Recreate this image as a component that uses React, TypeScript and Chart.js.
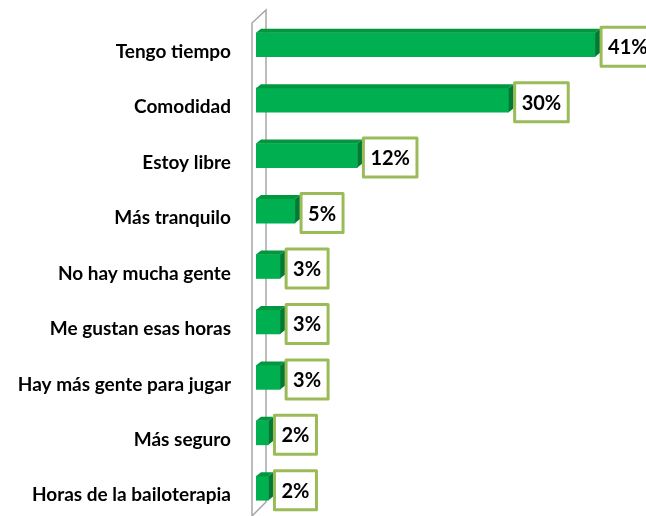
import { useEffect, useRef } from "react";
import { Chart, registerables } from "chart.js";

Chart.register(...registerables);

const categories = [
  "Tengo tiempo",
  "Comodidad",
  "Estoy libre",
  "Más tranquilo",
  "No hay mucha gente",
  "Me gustan esas horas",
  "Hay más gente para jugar",
  "Más seguro",
  "Horas de la bailoterapia",
];
const values = [40.8, 30.4, 12.2, 4.7, 2.9, 2.9, 2.9, 1.5, 1.5];
const valueLabels = ["41%", "30%", "12%", "5%", "3%", "3%", "3%", "2%", "2%"];

const FONT = "'Lato', 'Open Sans', sans-serif";
const FRONT = "#00B050";
const TOP = "#00973F";
const SIDE = "#007A33";
const BOX = "#9BBB59";
const WALL = "#A6A6A6";
const DX = 5;
const DY = 4;

const wallPlugin = {
  id: "wall3d",
  beforeDatasetsDraw(chart: any) {
    const { ctx, chartArea } = chart;
    const xf = chartArea.left - 4;
    const xb = chartArea.left + 10;
    ctx.save();
    ctx.strokeStyle = WALL;
    ctx.lineWidth = 1.5;
    ctx.beginPath();
    ctx.moveTo(xf, chartArea.bottom + 4);
    ctx.lineTo(xf, chartArea.top + 6);
    ctx.lineTo(xb, chartArea.top - 7);
    ctx.lineTo(xb, chartArea.bottom - 14);
    ctx.lineTo(xf, chartArea.bottom);
    ctx.stroke();
    ctx.restore();

    const yScale = chart.scales.y;
    ctx.save();
    ctx.font = `bold 19px ${FONT}`;
    ctx.fillStyle = "#000000";
    ctx.textAlign = "right";
    ctx.textBaseline = "middle";
    categories.forEach((c, i) => {
      const yy = yScale.getPixelForValue(i);
      ctx.fillText(c, chartArea.left - 25, yy + 7);
    });
    ctx.restore();
  },
};

const facesPlugin = {
  id: "faces3d",
  afterDatasetsDraw(chart: any) {
    const { ctx } = chart;
    const meta = chart.getDatasetMeta(0);
    ctx.save();
    meta.data.forEach((bar: any, i: number) => {
      const { x, y, base, height } = bar.getProps(["x", "y", "base", "height"], true);
      const top = y - height / 2;
      const bot = y + height / 2;
      const x0 = base;
      const x1 = x;
      ctx.fillStyle = TOP;
      ctx.beginPath();
      ctx.moveTo(x0, top);
      ctx.lineTo(x0 + DX, top - DY);
      ctx.lineTo(x1 + DX, top - DY);
      ctx.lineTo(x1, top);
      ctx.closePath();
      ctx.fill();
      ctx.fillStyle = SIDE;
      ctx.beginPath();
      ctx.moveTo(x1, top);
      ctx.lineTo(x1 + DX, top - DY);
      ctx.lineTo(x1 + DX, bot - DY);
      ctx.lineTo(x1, bot);
      ctx.closePath();
      ctx.fill();

      const label = valueLabels[i];
      ctx.font = `bold 20px ${FONT}`;
      const tw = ctx.measureText(label).width;
      const bw = tw + 14;
      const bh = 39;
      const bx = x1 + DX + 1;
      const by = y - bh / 2 + 2;
      ctx.fillStyle = "#FFFFFF";
      ctx.fillRect(bx, by, bw, bh);
      ctx.strokeStyle = BOX;
      ctx.lineWidth = 3;
      ctx.lineJoin = "round";
      ctx.strokeRect(bx, by, bw, bh);
      ctx.fillStyle = "#000000";
      ctx.textAlign = "center";
      ctx.textBaseline = "middle";
      ctx.fillText(label, bx + bw / 2, by + bh / 2 + 1);
    });
    ctx.restore();
  },
};

export default function App() {
  const ref = useRef<HTMLCanvasElement | null>(null);
  useEffect(() => {
    if (!ref.current) return;
    const chart = new Chart(ref.current, {
      type: "bar",
      data: {
        labels: categories,
        datasets: [
          {
            data: values,
            backgroundColor: FRONT,
            borderWidth: 0,
            barThickness: 24,
          },
        ],
      },
      options: {
        indexAxis: "y",
        animation: false,
        responsive: false,
        maintainAspectRatio: false,
        layout: { padding: { top: 17, right: 16, bottom: 0, left: 0 } },
        plugins: {
          legend: { display: false },
          tooltip: { enabled: false },
        },
        scales: {
          x: { display: false, min: 0, max: 45 },
          y: {
            afterFit(scale: any) {
              scale.width = 256;
            },
            grid: { display: false, drawTicks: false },
            border: { display: false },
            ticks: { display: false },
          },
        },
      },
      plugins: [wallPlugin, facesPlugin],
    });
    return () => chart.destroy();
  }, []);
  return (
    <div style={{ position: "fixed", left: 0, top: 0, width: 646, height: 516, background: "#fff" }}>
      <canvas ref={ref} width={646} height={516} style={{ width: 646, height: 516, display: "block" }} />
    </div>
  );
}
